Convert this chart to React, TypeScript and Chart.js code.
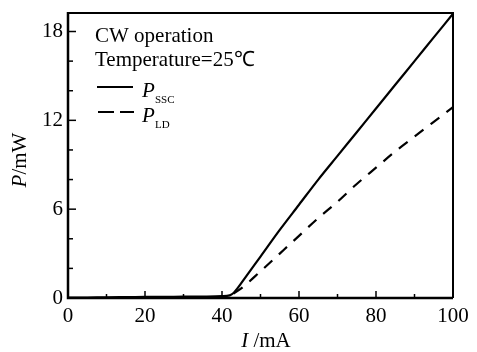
import React, { useEffect, useRef } from "react";
import { Chart, registerables } from "chart.js";

Chart.register(...registerables);

const currentSSC = [0, 5, 10, 15, 20, 25, 30, 35, 40, 42, 43, 44, 45, 50, 55, 60, 65, 70, 75, 80, 85, 90, 95, 100];
const powerSSC = [0.02, 0.03, 0.05, 0.06, 0.07, 0.08, 0.09, 0.1, 0.12, 0.18, 0.34, 0.65, 1.0, 2.8, 4.6, 6.3, 8.0, 9.6, 11.2, 12.8, 14.4, 16.0, 17.6, 19.2];
const currentLD = [43, 45, 50, 55, 60, 65, 70, 75, 80, 85, 90, 95, 100];
const powerLD = [0.3, 0.65, 1.8, 3.0, 4.2, 5.4, 6.5, 7.7, 8.8, 9.9, 10.9, 11.9, 12.9];
const yMajorTicks = [0, 6, 12, 18];
const xMajorTicks = [0, 20, 40, 60, 80, 100];
const legendLines = ["CW operation", "Temperature=25\u2103"];

const SERIF = '"Liberation Serif", "Times New Roman", serif';

const decorPlugin = {
  id: "decor",
  afterDraw(chart: any) {
    const ctx = chart.ctx as CanvasRenderingContext2D;
    const { left, right, top, bottom } = chart.chartArea;
    const xs = chart.scales.x;
    const ys = chart.scales.y;
    ctx.save();
    ctx.strokeStyle = "#000";
    ctx.fillStyle = "#000";
    // frame
    ctx.lineWidth = 2;
    ctx.beginPath();
    ctx.moveTo(left, top);
    ctx.lineTo(right, top);
    ctx.lineTo(right, bottom);
    ctx.stroke();
    ctx.lineWidth = 2.5;
    ctx.beginPath();
    ctx.moveTo(left, top - 1);
    ctx.lineTo(left, bottom);
    ctx.lineTo(right, bottom);
    ctx.stroke();
    // ticks
    ctx.lineWidth = 1.5;
    for (let v = 2; v <= 18; v += 2) {
      const y = ys.getPixelForValue(v);
      const len = v % 6 === 0 ? 8 : 5;
      ctx.beginPath();
      ctx.moveTo(left, y);
      ctx.lineTo(left + len, y);
      ctx.stroke();
    }
    for (let v = 10; v < 100; v += 10) {
      const x = xs.getPixelForValue(v);
      const len = v % 20 === 0 ? 7 : 4;
      ctx.beginPath();
      ctx.moveTo(x, bottom);
      ctx.lineTo(x, bottom - len);
      ctx.stroke();
    }
    // legend text
    ctx.font = `21px ${SERIF}`;
    ctx.textAlign = "left";
    ctx.textBaseline = "alphabetic";
    ctx.fillText(legendLines[0], 95, 42);
    ctx.fillText(legendLines[1], 95, 66);
    // legend samples
    ctx.lineWidth = 2;
    ctx.beginPath();
    ctx.moveTo(97, 87);
    ctx.lineTo(133, 87);
    ctx.stroke();
    ctx.setLineDash([16, 6]);
    ctx.beginPath();
    ctx.moveTo(98, 112);
    ctx.lineTo(134, 112);
    ctx.stroke();
    ctx.setLineDash([]);
    ctx.font = `italic 21px ${SERIF}`;
    ctx.fillText("P", 142, 97);
    ctx.fillText("P", 142, 122);
    ctx.font = `11px ${SERIF}`;
    ctx.fillText("SSC", 155, 103);
    ctx.fillText("LD", 155, 128);
    // x title
    ctx.font = `italic 21px ${SERIF}`;
    const iW = ctx.measureText("I ").width;
    ctx.font = `21px ${SERIF}`;
    const restW = ctx.measureText("/mA").width;
    let sx = 266 - (iW + restW) / 2;
    ctx.font = `italic 21px ${SERIF}`;
    ctx.fillText("I ", sx, 347);
    ctx.font = `21px ${SERIF}`;
    ctx.fillText("/mA", sx + iW, 347);
    // y title
    ctx.translate(26, 160);
    ctx.rotate(-Math.PI / 2);
    ctx.font = `italic 21px ${SERIF}`;
    const pW = ctx.measureText("P").width;
    ctx.font = `21px ${SERIF}`;
    const mW = ctx.measureText("/mW").width;
    sx = -(pW + mW) / 2;
    ctx.font = `italic 21px ${SERIF}`;
    ctx.fillText("P", sx, 0);
    ctx.font = `21px ${SERIF}`;
    ctx.fillText("/mW", sx + pW, 0);
    ctx.restore();
  },
};

export default function App() {
  const ref = useRef<HTMLCanvasElement>(null);
  useEffect(() => {
    document.body.style.margin = "0";
    const canvas = ref.current!;
    const chart = new Chart(canvas, {
      type: "line",
      data: {
        datasets: [
          {
            label: "P_SSC",
            data: currentSSC.map((x, i) => ({ x, y: powerSSC[i] })),
            borderColor: "#000",
            borderWidth: 2.2,
            pointRadius: 0,
            cubicInterpolationMode: "monotone",
            fill: false,
          },
          {
            label: "P_LD",
            data: currentLD.map((x, i) => ({ x, y: powerLD[i] })),
            borderColor: "#000",
            borderWidth: 2.2,
            borderDash: [11, 9],
            pointRadius: 0,
            cubicInterpolationMode: "monotone",
            fill: false,
          },
        ],
      },
      options: {
        responsive: false,
        animation: false,
        layout: { padding: { left: 0, top: 13, right: 24, bottom: 0 } },
        plugins: { legend: { display: false }, tooltip: { enabled: false } },
        scales: {
          x: {
            type: "linear",
            min: 0,
            max: 100,
            grid: { display: false, drawTicks: false },
            border: { display: false },
            afterBuildTicks: (s: any) => {
              s.ticks = xMajorTicks.map((v) => ({ value: v }));
            },
            afterFit: (s: any) => {
              s.height = 54;
              s.paddingLeft = 0;
              s.paddingRight = 0;
            },
            ticks: {
              color: "#000",
              font: { family: SERIF, size: 21 },
              padding: 6,
              maxRotation: 0,
              autoSkip: false,
            },
          },
          y: {
            type: "linear",
            min: 0,
            max: 19.25,
            grid: { display: false, drawTicks: false },
            border: { display: false },
            afterBuildTicks: (s: any) => {
              s.ticks = yMajorTicks.map((v) => ({ value: v }));
            },
            afterFit: (s: any) => {
              s.width = 68;
              s.paddingTop = 0;
              s.paddingBottom = 0;
            },
            ticks: {
              color: "#000",
              font: { family: SERIF, size: 21 },
              padding: 5,
              autoSkip: false,
            },
          },
        },
      },
      plugins: [decorPlugin],
    } as any);
    return () => chart.destroy();
  }, []);
  return <canvas ref={ref} width={477} height={352} style={{ display: "block", width: 477, height: 352 }} />;
}
